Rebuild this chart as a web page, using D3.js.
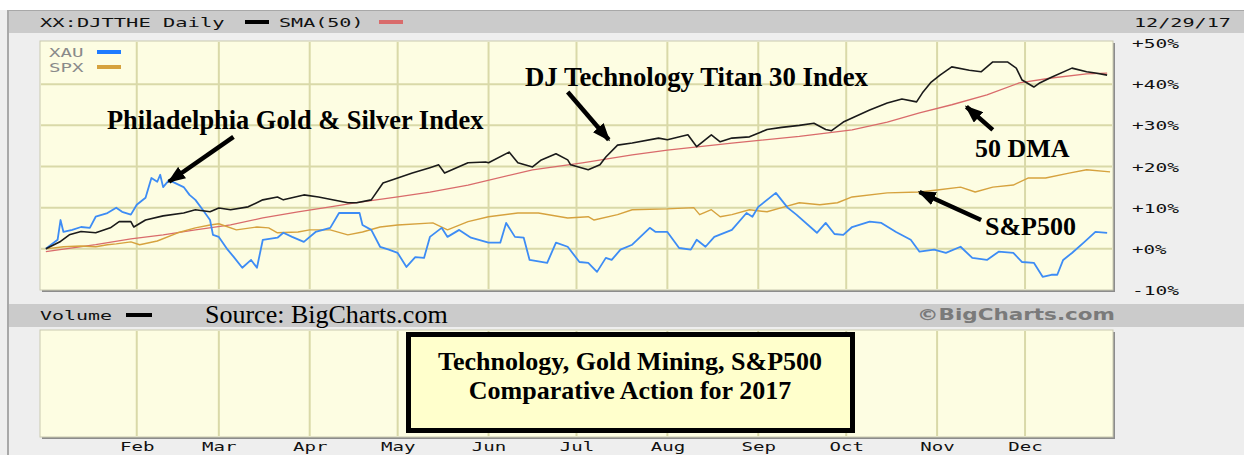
<!DOCTYPE html>
<html>
<head>
<meta charset="utf-8">
<script src="https://cdn.jsdelivr.net/npm/d3@7"></script>
<style>
  html, body { margin: 0; padding: 0; background: #eeeeee; }
  svg { display: block; }
</style>
</head>
<body>
<div id="chart"></div>
<script>
// Series as [day of year 2017, % change since start]
const DJT = [
  [1, 0], [6, 1.8], [9, 3.4], [13, 4.2], [18, 3.9], [23, 5.1], [26, 6.6], [30, 6.6], [31, 5.3],
  [35, 7], [41, 8], [48, 8.7], [52, 9.5], [57, 9], [60, 9.9], [64, 9.5], [70, 10.2], [75, 11.9],
  [80, 12.6], [82, 11.9], [89, 13.1], [94, 12.6], [104, 11.2], [107, 11.2], [112, 11.9],
  [116, 16], [121, 17.2], [126, 18.4], [132, 19.7], [135, 20.4], [137, 18.4], [145, 20.9],
  [151, 21.1], [152, 20.9], [159, 23.5], [162, 20.9], [167, 19.9], [170, 21.6], [175, 23.1],
  [179, 21.6], [180, 20.4], [186, 19.2], [190, 20.4], [192, 22.3], [196, 25.2], [201, 25.7],
  [210, 26.9], [213, 26.5], [220, 27.7], [223, 24.8], [228, 27.7], [231, 26], [235, 26.9],
  [241, 27.2], [245, 28.4], [247, 29], [252, 29.5], [258, 30], [263, 30.5], [267, 29],
  [269, 28.7], [273, 30.8], [276, 31.8], [282, 33.7], [288, 35.4], [293, 36.4], [298, 35.7],
  [300, 37.9], [303, 40.5], [306, 42.2], [310, 44.2], [316, 43.4], [320, 43], [324, 45.4],
  [329, 45.4], [332, 43.9], [334, 41], [338, 39.3], [340, 40.3], [344, 41.7], [351, 43.9],
  [356, 43], [359, 42.7], [363, 42.2]
];
const SMA50 = [
  [1, -0.7], [18, 1], [30, 2.4], [41, 3.4], [52, 4.6], [64, 5.8], [75, 7.5], [87, 9],
  [98, 10.2], [107, 11.2], [121, 12.6], [132, 13.8], [145, 15.5], [167, 19.2], [184, 20.9],
  [201, 22.8], [213, 24], [235, 25.7], [258, 27.3], [265, 27.9], [276, 28.9], [288, 30.8],
  [299, 33], [310, 35], [322, 37.4], [333, 40.3], [344, 41.5], [356, 42.5], [363, 42.7]
];
const XAU = [
  [1, 0], [5, 2.2], [6, 7], [7, 4.1], [10, 4.6], [13, 5.3], [16, 5.1], [18, 7.8], [22, 8.7],
  [25, 10], [27, 9], [30, 8.3], [32, 10.7], [35, 12.4], [37, 17.2], [39, 16.3], [40, 18],
  [41, 15], [43, 16.7], [48, 15], [50, 13.1], [52, 11.9], [55, 9], [57, 7], [58, 3.4],
  [60, 2.9], [63, -0.2], [65, -1.9], [68, -4.6], [71, -2.7], [73, -4.6], [75, 2.2], [80, 2.7],
  [82, 3.9], [85, 2.9], [89, 1.7], [93, 4.1], [98, 5.1], [101, 8.7], [108, 8.7], [109, 5.8],
  [112, 4.6], [115, 0.5], [118, -0.2], [121, -1], [124, -4.4], [127, -2], [130, -2.2],
  [132, 2.9], [136, 5.1], [138, 2.9], [142, 4.6], [146, 2.7], [152, 1.5], [156, 1.5],
  [158, 6.3], [161, 2.9], [164, 2.7], [166, -2.7], [172, -3.4], [175, 1.5], [179, 0.5],
  [183, -3.2], [186, -3.4], [189, -5.6], [192, -2.2], [194, -2.7], [197, -0.2], [201, 1],
  [207, 5.1], [209, 4.1], [213, 4.1], [217, 0.2], [221, -0.2], [223, 2.2], [226, 0.5],
  [229, 2.9], [235, 4.6], [240, 8.7], [242, 7.8], [244, 10.2], [250, 13.6], [254, 10],
  [257, 8.3], [264, 3.9], [267, 6.3], [270, 3.6], [273, 3.4], [276, 5.3], [282, 6.6],
  [286, 6.3], [291, 4.1], [296, 2.2], [299, -0.7], [304, -0.2], [308, -1], [313, 0.5],
  [317, -2.2], [322, -2.7], [326, -0.7], [331, -1], [334, -3.2], [338, -3.4], [341, -6.8],
  [344, -6.3], [346, -6.3], [348, -2.7], [351, -1], [355, 1.5], [359, 4.1], [363, 3.9]
];
const SPX = [
  [1, 0], [7, 0.5], [13, 0.7], [18, 0.5], [22, 1], [25, 1.2], [30, 1.7], [33, 1], [39, 1.9],
  [46, 3.9], [52, 5.1], [57, 5.8], [60, 6.1], [66, 4.6], [73, 5.3], [77, 5.1], [80, 3.9],
  [87, 4.1], [91, 4.6], [98, 4.6], [104, 3.4], [109, 4.1], [115, 5.3], [121, 5.8], [133, 6.3],
  [138, 4.6], [145, 6.6], [152, 7.8], [162, 8.7], [169, 8.7], [179, 7.5], [186, 7.8],
  [188, 7], [196, 8.3], [201, 9.5], [213, 9.7], [222, 10], [224, 8.3], [228, 9.5], [231, 7.8],
  [235, 8.3], [241, 9.5], [247, 9], [252, 10], [258, 11.2], [265, 10.7], [271, 11.2],
  [276, 12.6], [288, 13.6], [299, 13.8], [305, 14.3], [313, 15], [318, 13.8], [324, 15],
  [331, 15.5], [336, 17.2], [342, 17.2], [350, 18.4], [356, 19.2], [364, 18.7]
];

const Y_TICKS = [-10, 0, 10, 20, 30, 40, 50];
const Y_GRID = [0, 10, 20, 30, 40];

// arrows: [tailDay, tailPct, headDay, headPct]
const ARROWS = [
  [65.5, 27.2, 43.3, 16.3],
  [179.7, 38.1, 193.4, 26.5],
  [324, 28.9, 315, 34.5],
  [320.6, 7, 299.8, 13.8]
];

const W = 1244, H = 455;
const PLOT = { left: 40, right: 1113, top: 41, bottom: 290 };
const VOL = { top: 330, bottom: 437 };
const YELLOW = '#fdfde2';
const GRID = '#d9d9a8';
const PIXFONT = '"DejaVu Sans Mono", monospace';
const SERIF = '"Liberation Serif", "Times New Roman", serif';

const dayDate = (d) => new Date(2017, 0, d);

const x = d3.scaleTime()
  .domain([new Date(2016, 11, 30), new Date(2017, 11, 31)])
  .range([PLOT.left, PLOT.right]);
const y = d3.scaleLinear().domain([-10, 50]).range([290, 43]);

const svg = d3.select('#chart').append('svg').attr('width', W).attr('height', H);

// stretched monospace text to mimic the bitmap font
function pixText(g, tx, ty, str, fill, anchor) {
  return g.append('text')
    .attr('x', tx).attr('y', ty)
    .attr('font-family', PIXFONT).attr('font-size', 13)
    .attr('fill', fill || '#111')
    .attr('text-anchor', anchor || 'start')
    .attr('textLength', str.length * 12.5 - 3)
    .attr('lengthAdjust', 'spacingAndGlyphs')
    .text(str);
}

// page frame
svg.append('rect').attr('width', W).attr('height', H).attr('fill', '#eeeeee');
svg.append('rect').attr('width', W).attr('height', 10).attr('fill', '#ffffff');
svg.append('rect').attr('x', 8).attr('y', 10).attr('width', W - 8).attr('height', 23)
  .attr('fill', '#cbcbcb');
svg.append('line').attr('x1', 8).attr('x2', W).attr('y1', 10.5).attr('y2', 10.5)
  .attr('stroke', '#a8a8a8');
svg.append('line').attr('x1', 8).attr('x2', 8).attr('y1', 10).attr('y2', H)
  .attr('stroke', '#a8a8a8').attr('stroke-width', 2);
svg.append('rect').attr('x', 9).attr('y', 304).attr('width', W - 9).attr('height', 23)
  .attr('fill', '#cbcbcb');

// header
pixText(svg, 40, 27, 'XX:DJTTHE Daily');
svg.append('rect').attr('x', 245).attr('y', 20).attr('width', 24).attr('height', 4).attr('fill', '#000');
pixText(svg, 279, 27, 'SMA(50)');
svg.append('rect').attr('x', 379).attr('y', 20).attr('width', 24).attr('height', 4).attr('fill', '#d96b6b');
pixText(svg, 1134, 27, '12/29/17');

// panels
function panel(top, bottom) {
  svg.append('rect')
    .attr('x', PLOT.left + 2).attr('y', top + 2)
    .attr('width', PLOT.right - PLOT.left).attr('height', bottom - top)
    .attr('fill', '#8c8c8c');
  svg.append('rect')
    .attr('x', PLOT.left).attr('y', top)
    .attr('width', PLOT.right - PLOT.left).attr('height', bottom - top)
    .attr('fill', YELLOW).attr('stroke', '#c9c9b0').attr('stroke-width', 1);
}
panel(PLOT.top, PLOT.bottom);
panel(VOL.top, VOL.bottom);

const monthStarts = d3.timeMonth.range(new Date(2017, 1, 1), new Date(2018, 0, 1));

const gridG = svg.append('g');
for (const [t, b] of [[PLOT.top, PLOT.bottom], [VOL.top, VOL.bottom]]) {
  gridG.append('g').selectAll('line').data(monthStarts).join('line')
    .attr('x1', (d) => x(d)).attr('x2', (d) => x(d))
    .attr('y1', t + 1).attr('y2', b - 1)
    .attr('stroke', GRID).attr('stroke-width', 2);
}
gridG.append('g').selectAll('line').data(Y_GRID).join('line')
  .attr('x1', PLOT.left + 1).attr('x2', PLOT.right - 1)
  .attr('y1', (d) => y(d)).attr('y2', (d) => y(d))
  .attr('stroke', GRID).attr('stroke-width', 2);

// lines
const line = d3.line().x((d) => x(dayDate(d[0]))).y((d) => y(d[1]));
const SERIES = [
  { data: SMA50, color: '#d96b6b', width: 1.3 },
  { data: SPX, color: '#d6a23e', width: 1.4 },
  { data: XAU, color: '#3d8cf5', width: 1.8 },
  { data: DJT, color: '#1a1a1a', width: 1.6 }
];
for (const s of SERIES) {
  svg.append('path').datum(s.data)
    .attr('d', line)
    .attr('fill', 'none')
    .attr('stroke', s.color)
    .attr('stroke-width', s.width)
    .attr('stroke-linejoin', 'round');
}

// legend
pixText(svg, 49, 57, 'XAU', '#8a8a8a');
svg.append('rect').attr('x', 97).attr('y', 50).attr('width', 24).attr('height', 4).attr('fill', '#1f7bff');
pixText(svg, 49, 72, 'SPX', '#8a8a8a');
svg.append('rect').attr('x', 97).attr('y', 65).attr('width', 24).attr('height', 4).attr('fill', '#d6a23e');

// right axis
const yAxis = svg.append('g')
  .attr('transform', 'translate(1132,0)')
  .call(d3.axisRight(y).tickValues(Y_TICKS).tickSize(0)
    .tickFormat((d) => (d < 0 ? '-' : '+') + Math.abs(d) + '%'));
yAxis.select('.domain').remove();
yAxis.selectAll('text')
  .attr('x', 0).attr('dy', '0.35em')
  .attr('font-family', PIXFONT).attr('font-size', 13).attr('fill', '#111')
  .attr('text-anchor', 'start')
  .each(function () {
    d3.select(this).attr('textLength', this.textContent.length * 12.5 - 3)
      .attr('lengthAdjust', 'spacingAndGlyphs');
  });

// month axis
const xAxis = svg.append('g')
  .attr('transform', 'translate(0,441)')
  .call(d3.axisBottom(x).tickValues(monthStarts).tickSize(0).tickFormat(d3.timeFormat('%b')));
xAxis.select('.domain').remove();
xAxis.selectAll('text')
  .attr('y', 0).attr('dy', '0.75em')
  .attr('font-family', PIXFONT).attr('font-size', 13).attr('fill', '#111')
  .each(function () {
    d3.select(this).attr('textLength', this.textContent.length * 12.5 - 3)
      .attr('lengthAdjust', 'spacingAndGlyphs');
  });

// volume header
pixText(svg, 40, 320, 'Volume');
svg.append('rect').attr('x', 126).attr('y', 313).attr('width', 26).attr('height', 4).attr('fill', '#000');
svg.append('text')
  .attr('x', 205).attr('y', 323)
  .attr('font-family', SERIF).attr('font-size', 26).attr('fill', '#000')
  .text('Source: BigCharts.com');
svg.append('text')
  .attr('x', 1115).attr('y', 320).attr('text-anchor', 'end')
  .attr('font-family', '"DejaVu Sans", sans-serif').attr('font-weight', 'bold')
  .attr('font-size', 15).attr('fill', '#7a7a7a')
  .attr('textLength', 198).attr('lengthAdjust', 'spacingAndGlyphs')
  .text('\u00a9BigCharts.com');

// annotations
svg.append('defs').append('marker')
  .attr('id', 'head').attr('markerUnits', 'userSpaceOnUse')
  .attr('viewBox', '0 0 18 14').attr('refX', 16).attr('refY', 7)
  .attr('markerWidth', 18).attr('markerHeight', 14).attr('orient', 'auto')
  .append('path').attr('d', 'M0,0 L18,7 L0,14 Z').attr('fill', '#000');

svg.append('g').selectAll('line').data(ARROWS).join('line')
  .attr('x1', (d) => x(dayDate(d[0]))).attr('y1', (d) => y(d[1]))
  .attr('x2', (d) => x(dayDate(d[2]))).attr('y2', (d) => y(d[3]))
  .attr('stroke', '#000').attr('stroke-width', 4.5)
  .attr('marker-end', 'url(#head)');

function label(tx, ty, str, anchor, size) {
  svg.append('text')
    .attr('x', tx).attr('y', ty)
    .attr('text-anchor', anchor || 'start')
    .attr('font-family', SERIF).attr('font-weight', 'bold').attr('font-size', size || 26)
    .attr('fill', '#000')
    .text(str);
}
label(107, 129, 'Philadelphia Gold & Silver Index', 'start', 26.4);
label(525, 86, 'DJ Technology Titan 30 Index', 'start', 26.8);
label(975, 157, '50 DMA');
label(985, 235, 'S&P500');

// title box
svg.append('rect')
  .attr('x', 408.5).attr('y', 334.5).attr('width', 444).attr('height', 96)
  .attr('fill', '#ffffcc').attr('stroke', '#000').attr('stroke-width', 5);
label(630, 370, 'Technology, Gold Mining, S&P500', 'middle');
label(630, 399, 'Comparative Action for 2017', 'middle');
</script>
</body>
</html>
